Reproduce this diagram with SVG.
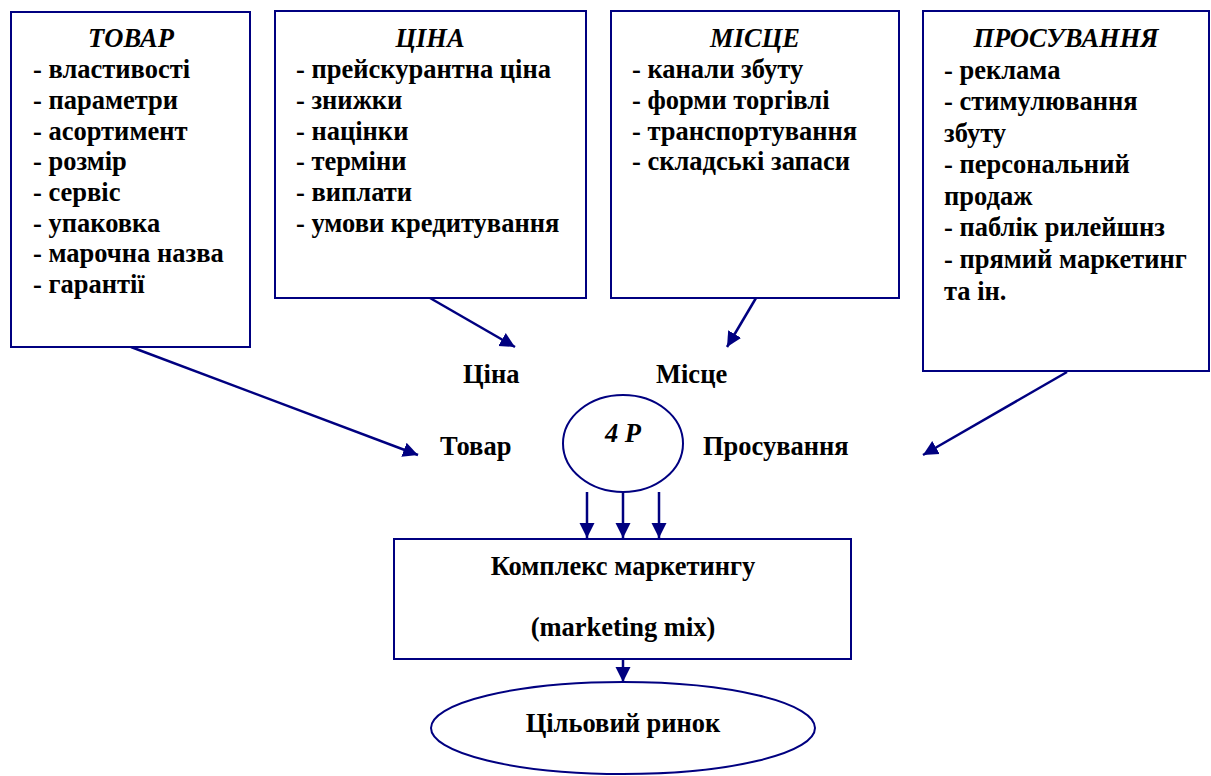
<svg xmlns="http://www.w3.org/2000/svg" width="1211" height="776" viewBox="0 0 1211 776">
<style>
.box{fill:#fff;stroke:#000080;stroke-width:2}
.t{font-family:"Liberation Serif","Times New Roman",serif;font-weight:bold;font-size:26.5px;fill:#000}
.h{font-style:italic;text-anchor:middle}
.c{text-anchor:middle}
.con{stroke:#000080;stroke-width:2.5;fill:none}
</style>
<defs>
<marker id="ah" markerUnits="userSpaceOnUse" markerWidth="16" markerHeight="16" viewBox="0 0 16 16" refX="15" refY="8" orient="auto">
<path d="M0,0.5 L15,8 L0,15.5 Z" fill="#000080"/>
</marker>
</defs>
<rect width="1211" height="776" fill="#fff"/>
<g id="connectors">
<line class="con" x1="131" y1="347" x2="418" y2="455" marker-end="url(#ah)"/>
<line class="con" x1="430" y1="298" x2="515" y2="347" marker-end="url(#ah)"/>
<line class="con" x1="756" y1="298" x2="727" y2="347" marker-end="url(#ah)"/>
<line class="con" x1="1067" y1="372" x2="923" y2="455" marker-end="url(#ah)"/>
<line class="con" x1="587" y1="492" x2="587" y2="538" marker-end="url(#ah)"/>
<line class="con" x1="623" y1="492" x2="623" y2="538" marker-end="url(#ah)"/>
<line class="con" x1="659" y1="492" x2="659" y2="538" marker-end="url(#ah)"/>
<line class="con" x1="623" y1="659" x2="623" y2="682" marker-end="url(#ah)"/>
</g>
<g id="tovar">
<rect class="box" x="11" y="12" width="239" height="335"/>
<text class="t h" x="131" y="47">ТОВАР</text>
<text class="t" x="33" y="78">- властивості</text>
<text class="t" x="33" y="109">- параметри</text>
<text class="t" x="33" y="140">- асортимент</text>
<text class="t" x="33" y="170">- розмір</text>
<text class="t" x="33" y="201">- сервіс</text>
<text class="t" x="33" y="232">- упаковка</text>
<text class="t" x="33" y="262">- марочна назва</text>
<text class="t" x="33" y="293">- гарантії</text>
</g>
<g id="tsina">
<rect class="box" x="275" y="11" width="311" height="287"/>
<text class="t h" x="430" y="47">ЦІНА</text>
<text class="t" x="296" y="78">- прейскурантна ціна</text>
<text class="t" x="296" y="109">- знижки</text>
<text class="t" x="296" y="140">- націнки</text>
<text class="t" x="296" y="170">- терміни</text>
<text class="t" x="296" y="201">- виплати</text>
<text class="t" x="296" y="232">- умови кредитування</text>
</g>
<g id="mistse">
<rect class="box" x="611" y="11" width="288" height="287"/>
<text class="t h" x="755" y="47">МІСЦЕ</text>
<text class="t" x="632" y="78">- канали збуту</text>
<text class="t" x="632" y="109">- форми торгівлі</text>
<text class="t" x="632" y="140">- транспортування</text>
<text class="t" x="632" y="170">- складські запаси</text>
</g>
<g id="prosuvannya">
<rect class="box" x="923" y="11" width="286" height="360"/>
<text class="t h" x="1066" y="47">ПРОСУВАННЯ</text>
<text class="t" x="944" y="79">- реклама</text>
<text class="t" x="944" y="110">- стимулювання</text>
<text class="t" x="944" y="142">збуту</text>
<text class="t" x="944" y="173">- персональний</text>
<text class="t" x="944" y="205">продаж</text>
<text class="t" x="944" y="236">- паблік рилейшнз</text>
<text class="t" x="944" y="268">- прямий маркетинг</text>
<text class="t" x="944" y="300">та ін.</text>
</g>
<g id="label-tsina"><text class="t" x="463" y="383">Ціна</text></g>
<g id="label-mistse"><text class="t" x="656" y="383">Місце</text></g>
<g id="label-tovar"><text class="t" x="440" y="455">Товар</text></g>
<g id="label-prosuvannya"><text class="t" x="703" y="455">Просування</text></g>
<g id="fourp">
<ellipse class="box" cx="623" cy="443.5" rx="60" ry="48.5"/>
<text class="t h" x="623" y="442">4 P</text>
</g>
<g id="kompleks">
<rect class="box" x="394" y="539" width="457" height="120"/>
<text class="t c" x="623" y="575">Комплекс маркетингу</text>
<text class="t c" x="623" y="636">(marketing mix)</text>
</g>
<g id="rynok">
<ellipse class="box" cx="623" cy="728" rx="192" ry="46"/>
<text class="t c" x="623" y="732">Цільовий ринок</text>
</g>
</svg>
